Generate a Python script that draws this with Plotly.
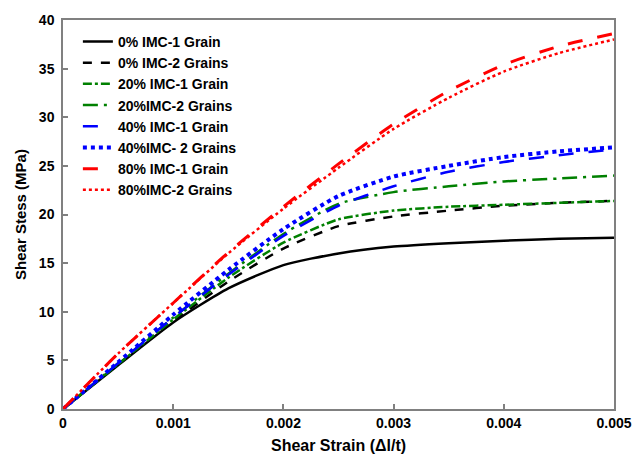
import plotly.graph_objects as go

strain = [0, 0.0005, 0.001, 0.0015, 0.002, 0.0025, 0.003, 0.0035, 0.004, 0.0045, 0.005]

names = ["0% IMC-1 Grain", "0% IMC-2 Grains", "20% IMC-1 Grain", "20%IMC-2 Grains",
         "40% IMC-1 Grain", "40%IMC- 2 Grains", "80% IMC-1 Grain", "80%IMC-2 Grains"]

s0_1 = [0, 4.5, 8.9, 12.4, 14.8, 16.0, 16.7, 17.05, 17.3, 17.5, 17.6]
s0_2 = [0, 4.6, 9.0, 13.1, 16.5, 18.8, 19.8, 20.4, 20.9, 21.2, 21.4]
s20_1 = [0, 4.6, 9.2, 13.5, 17.1, 19.5, 20.4, 20.8, 21.0, 21.2, 21.4]
s20_2 = [0, 4.7, 9.4, 13.9, 18.0, 21.1, 22.3, 22.9, 23.4, 23.7, 24.0]
s40_1 = [0, 4.7, 9.4, 13.8, 17.8, 20.9, 22.9, 24.4, 25.4, 26.1, 26.7]
s40_2 = [0, 4.8, 9.7, 14.3, 18.5, 21.9, 23.9, 25.0, 25.9, 26.5, 26.9]
s80_1 = [0, 5.7, 10.9, 16.1, 20.8, 25.2, 29.3, 32.7, 35.4, 37.3, 38.6]
s80_2 = [0, 5.7, 10.9, 16.0, 20.6, 24.8, 28.8, 32.0, 34.7, 36.6, 38.0]

series = [s0_1, s0_2, s20_1, s20_2, s40_1, s40_2, s80_1, s80_2]
colors = ["black", "black", "green", "green", "blue", "blue", "red", "red"]
dashes = ["solid", "dash", "dashdot", "longdashdot", "longdash", "dot", "longdash", "dot"]
widths = [2.5, 2.5, 2.5, 2.5, 2.5, 4, 3, 2.5]

fig = go.Figure()
for n, s, c, d, w in zip(names, series, colors, dashes, widths):
    fig.add_trace(go.Scatter(x=strain, y=s, name="<b>" + n + "</b>", mode="lines",
                             line=dict(color=c, dash=d, width=w, shape="spline", smoothing=0.6)))

axis_common = dict(showline=True, linecolor="#808080", linewidth=1.5, mirror=True,
                   ticks="inside", ticklen=5, tickcolor="#808080", tickwidth=1.5,
                   showgrid=False, zeroline=False,
                   tickfont=dict(family="Liberation Sans", size=14, color="black"))

fig.update_xaxes(range=[0, 0.005], dtick=0.001, tickformat=".3~f",
                 tickprefix="<b>", ticksuffix="</b>",
                 title=dict(text="<b>Shear Strain (Δl/t)</b>",
                            font=dict(family="Liberation Sans", size=16, color="black"), standoff=10),
                 **axis_common)
fig.update_yaxes(range=[0, 40], dtick=5, ticklabelstandoff=4,
                 tickprefix="<b>", ticksuffix="</b>",
                 title=dict(text="<b>Shear Stess (MPa)</b>",
                            font=dict(family="Liberation Sans", size=15, color="black"), standoff=9),
                 **axis_common)

fig.update_layout(
    width=644, height=464,
    margin=dict(l=63, r=30, t=13, b=54),
    plot_bgcolor="white", paper_bgcolor="white",
    font=dict(family="Liberation Sans", color="black"),
    legend=dict(x=0.027, y=0.985, xanchor="left", yanchor="top",
                bgcolor="rgba(0,0,0,0)", tracegroupgap=0,
                font=dict(family="Liberation Sans", size=14, color="black"),
                itemwidth=30),
)

fig.write_html("out.html")
